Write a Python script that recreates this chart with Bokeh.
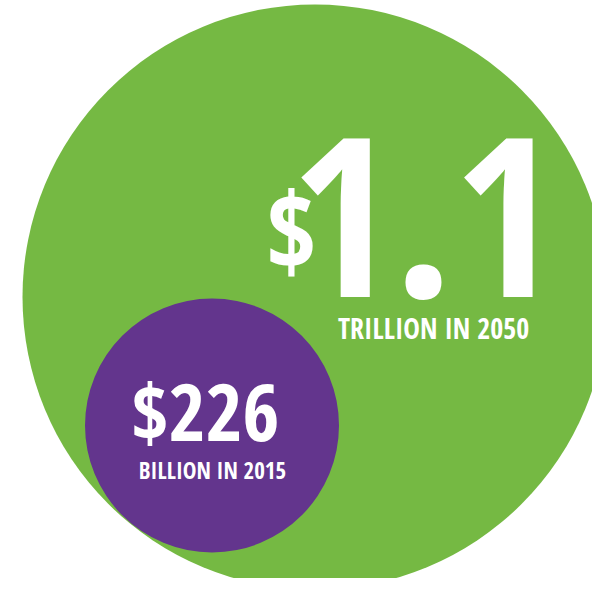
from bokeh.plotting import figure
from bokeh.embed import file_html
from bokeh.resources import INLINE
from bokeh.core.properties import value
from bokeh.models import Range1d, ColumnDataSource

# ---- data ----
years = [2015, 2050]
amounts = ["226", "1.1"]
units = ["BILLION", "TRILLION"]
values_billion = [226, 1100]
colors = ["#63358D", "#75B943"]

# ---- layout (image pixel coordinates) ----
W, H = 592, 578
FONT = "Open Sans Condensed"
MID = 0.36  # cap-middle offset as a fraction of font size

p = figure(width=W, height=H, output_backend="svg", toolbar_location=None,
           x_range=Range1d(0, W), y_range=Range1d(H, 0),
           min_border=0, outline_line_color=None, background_fill_color="white",
           border_fill_color="white")
p.axis.visible = False
p.grid.visible = False

# circles (big first, small on top)
cx = [211.5, 314.5]
cy = [425.0, 296.5]
rr = [127.0, 292.5]
order = [1, 0]
circ = ColumnDataSource(dict(x=[cx[i] for i in order], y=[cy[i] for i in order],
                             r=[rr[i] for i in order], c=[colors[i] for i in order]))
p.circle(x="x", y="y", radius="r", fill_color="c", line_color=None, source=circ)


def add_text(xs, baselines, texts, sizes, align="center"):
    src = ColumnDataSource(dict(
        x=xs,
        y=[b - MID * s for b, s in zip(baselines, sizes)],
        t=texts,
        s=[f"{s}px" for s in sizes],
    ))
    p.text(x="x", y="y", text="t", text_font_size="s", source=src, text_color="white",
           text_font=value(FONT), text_font_style="bold", text_align=align,
           text_baseline="middle")


# big numbers
add_text([205, 423], [438, 297], ["$" + amounts[0], amounts[1]], [80, 222])
add_text([316], [267], ["$"], [108], align="right")

# sub labels
add_text([212, 433], [478, 338],
         [f"{units[0]} IN {years[0]}", f"{units[1]} IN {years[1]}"], [23, 28])

open("out.html", "w").write(file_html(p, INLINE))
